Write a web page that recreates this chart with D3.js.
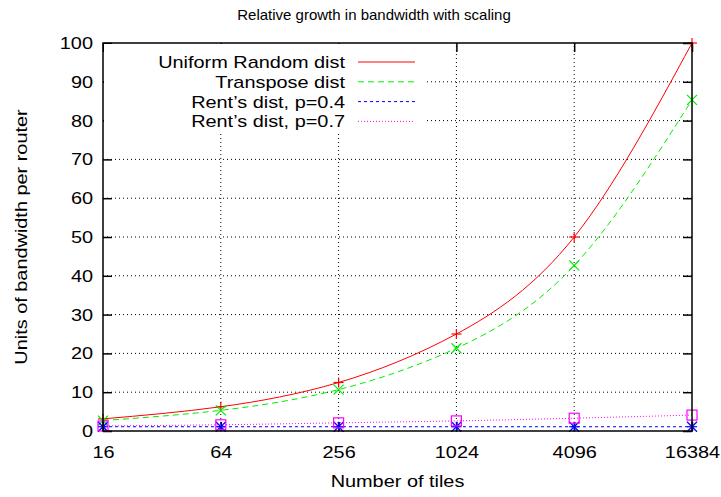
<!DOCTYPE html>
<html>
<head>
<meta charset="utf-8">
<script src="https://cdn.jsdelivr.net/npm/d3@7/dist/d3.min.js"></script>
<style>
  html, body { margin: 0; padding: 0; background: #fff; }
  svg { display: block; font-family: "Liberation Sans", Arial, Helvetica, sans-serif; }
</style>
</head>
<body>
<svg id="chart" width="721" height="497"></svg>
<script>
// Tile counts and per-router bandwidth for each traffic pattern
const tiles = [16, 64, 256, 1024, 4096, 16384];
const uniformRandom = [3.125, 6.25, 12.5, 25, 50, 100];
const transpose = [2.67, 5.33, 10.67, 21.33, 42.67, 85.33];
const rent04 = [1.1, 1.1, 1.1, 1.1, 1.1, 1.1];
const rent07 = [1.3, 1.6, 2.1, 2.6, 3.3, 4.1];
const yTicks = [0, 10, 20, 30, 40, 50, 60, 70, 80, 90, 100];

const series = [
  { name: "Uniform Random dist", values: uniformRandom, color: "#ff0000", dash: null, marker: "plus" },
  { name: "Transpose dist", values: transpose, color: "#00ee00", dash: "6,4", marker: "cross" },
  { name: "Rent\u2019s dist, p=0.4", values: rent04, color: "#0000ff", dash: "3,3", marker: "star" },
  { name: "Rent\u2019s dist, p=0.7", values: rent07, color: "#ff00ff", dash: "1,2", marker: "square" }
];

const svg = d3.select("#chart");
const W = 721, H = 497;
const m = { left: 103, right: 29, top: 43, bottom: 66 };
const x0 = m.left, x1 = W - m.right, y0 = H - m.bottom, y1 = m.top;
const WIDE = 1.17;   // horizontal stretch of the label face

const x = d3.scaleLog().base(2).domain([16, 16384]).range([x0, x1]);
const y = d3.scaleLinear().domain([0, 100]).range([y0, y1]);

// Widen a text element horizontally around its anchor point
function widen(sel) {
  sel.each(function () {
    const t = d3.select(this);
    const tx = +t.attr("x") || 0, ty = +t.attr("y") || 0;
    const prev = t.attr("transform") || "";
    t.attr("x", 0).attr("y", 0)
      .attr("transform", `${prev} translate(${tx},${ty}) scale(${WIDE},1)`);
  });
}

// Dotted grid
const grid = svg.append("g").attr("stroke", "#000").attr("stroke-width", 1)
  .attr("stroke-dasharray", "1,3");
tiles.slice(1, -1).forEach(t => {
  grid.append("line").attr("x1", x(t)).attr("x2", x(t)).attr("y1", y0).attr("y2", y1);
});
yTicks.slice(1, -1).forEach(v => {
  grid.append("line").attr("x1", x0).attr("x2", x1).attr("y1", y(v)).attr("y2", y(v));
});

// Axes with ticks mirrored inward on all four sides
const tickLen = 9;
const tickStyle = g => g.selectAll(".tick line").attr("stroke", "#000").attr("stroke-width", 1.5);
const hideDomain = g => g.select(".domain").remove();

const axB = svg.append("g").attr("transform", `translate(0,${y0})`)
  .call(d3.axisBottom(x).tickValues(tiles).tickFormat(d3.format("d")).tickSize(-tickLen).tickPadding(15))
  .call(hideDomain).call(tickStyle);
axB.selectAll("text").attr("font-size", 17).attr("fill", "#000")
  .attr("font-family", "Liberation Sans, Arial, sans-serif").call(widen);

svg.append("g").attr("transform", `translate(0,${y1})`)
  .call(d3.axisTop(x).tickValues(tiles).tickFormat("").tickSize(-tickLen))
  .call(hideDomain).call(tickStyle);

const axL = svg.append("g").attr("transform", `translate(${x0},0)`)
  .call(d3.axisLeft(y).tickValues(yTicks).tickSize(-tickLen).tickPadding(10))
  .call(hideDomain).call(tickStyle);
axL.selectAll("text").attr("font-size", 17).attr("fill", "#000")
  .attr("font-family", "Liberation Sans, Arial, sans-serif").call(widen);

svg.append("g").attr("transform", `translate(${x1},0)`)
  .call(d3.axisRight(y).tickValues(yTicks).tickFormat("").tickSize(-tickLen))
  .call(hideDomain).call(tickStyle);

// Legend box sits above the grid
const legendX = 345, legendY = 62, legendStep = 19.8;
svg.append("rect").attr("x", x0 + 1).attr("y", y1 + 1)
  .attr("width", 425 - x0).attr("height", 88).attr("fill", "#fff");

// Markers
function drawMarker(g, type, cx, cy, color) {
  const s = 5;
  const seg = (ax, ay, bx, by) => g.append("line").attr("x1", ax).attr("y1", ay).attr("x2", bx).attr("y2", by)
    .attr("stroke", color).attr("stroke-width", 1.2);
  if (type === "plus" || type === "star") {
    seg(cx - s, cy, cx + s, cy);
    seg(cx, cy - s, cx, cy + s);
  }
  if (type === "cross" || type === "star") {
    seg(cx - s, cy - s, cx + s, cy + s);
    seg(cx - s, cy + s, cx + s, cy - s);
  }
  if (type === "square") {
    g.append("rect").attr("x", cx - s).attr("y", cy - s).attr("width", 2 * s).attr("height", 2 * s)
      .attr("fill", "none").attr("stroke", color).attr("stroke-width", 1.2);
  }
}

const line = d3.line().x(d => x(d[0])).y(d => y(d[1])).curve(d3.curveNatural);
const plot = svg.append("g");
series.forEach(s => {
  const pts = tiles.map((t, i) => [t, s.values[i]]);
  plot.append("path").datum(pts).attr("d", line).attr("fill", "none")
    .attr("stroke", s.color).attr("stroke-width", 1)
    .attr("stroke-dasharray", s.dash);
  const mg = plot.append("g");
  pts.forEach(p => drawMarker(mg, s.marker, x(p[0]), y(p[1]), s.color));
});

// Legend entries
const leg = svg.append("g");
series.forEach((s, i) => {
  const ly = legendY + i * legendStep;
  leg.append("text").attr("x", legendX).attr("y", ly).attr("dy", "0.35em")
    .attr("text-anchor", "end").attr("font-size", 17).text(s.name).call(widen);
  leg.append("line").attr("x1", 358).attr("x2", 415).attr("y1", ly).attr("y2", ly)
    .attr("stroke", s.color).attr("stroke-width", 1).attr("stroke-dasharray", s.dash);
});

// Frame
svg.append("rect").attr("x", x0).attr("y", y1).attr("width", x1 - x0).attr("height", y0 - y1)
  .attr("fill", "none").attr("stroke", "#000").attr("stroke-width", 1.5);

// Titles
svg.append("text").attr("x", 374).attr("y", 20).attr("text-anchor", "middle")
  .attr("font-size", 15).text("Relative growth in bandwidth with scaling");
svg.append("text").attr("x", (x0 + x1) / 2).attr("y", 487).attr("text-anchor", "middle")
  .attr("font-size", 17).text("Number of tiles").call(widen);
svg.append("text").attr("transform", `translate(27,${(y0 + y1) / 2}) rotate(-90) scale(${WIDE},1)`)
  .attr("text-anchor", "middle").attr("font-size", 17).text("Units of bandwidth per router");
</script>
</body>
</html>
